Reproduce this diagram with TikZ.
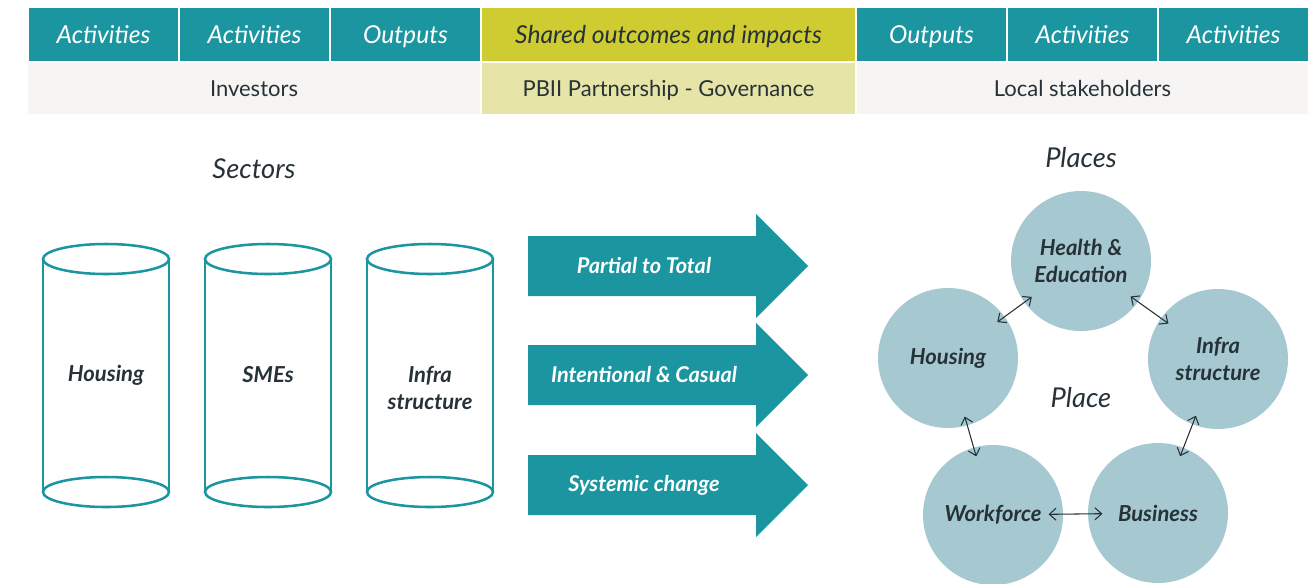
\documentclass[tikz,border=0pt]{standalone}
\usepackage{fontspec}
\setmainfont{Lato}
\usetikzlibrary{arrows.meta}
\definecolor{tealbox}{HTML}{1B96A0}
\definecolor{limebox}{HTML}{CFCC32}
\definecolor{palelime}{HTML}{E6E4A6}
\definecolor{greybox}{HTML}{F6F5F3}
\definecolor{placeblue}{HTML}{A6C8D0}
\definecolor{darktext}{HTML}{263238}

\begin{document}
\begin{tikzpicture}[x=0.75pt,y=-0.75pt,
	headcell/.style={minimum height=39.75pt, inner sep=0pt, text height=17pt, text depth=3pt, font=\itshape\fontsize{18.5}{20}\selectfont},
	rolecell/.style={minimum height=38.25pt, inner sep=0pt, text height=15.5pt, text depth=3pt, text=darktext, font=\fontsize{16.5}{18}\selectfont},
	barrel/.style={draw=tealbox, line width=1.9pt},
	barrellabel/.style={align=center, text=darktext, font=\bfseries\itshape\fontsize{16.5}{20}\selectfont},
	arrowlabel/.style={text=white, font=\bfseries\itshape\fontsize{16.3}{18}\selectfont},
	placenode/.style={circle, fill=placeblue, minimum size=105pt, inner sep=0pt, align=center, text=darktext, font=\bfseries\itshape\fontsize{16.5}{20}\selectfont},
	link/.style={{Straight Barb[length=5pt,width=9pt]}-{Straight Barb[length=5pt,width=9pt]}, draw=darktext, line width=0.8pt, shorten <=-7pt, shorten >=-7pt},
	title/.style={text=darktext, font=\itshape\fontsize{20.5}{22}\selectfont}]
	\useasboundingbox (0,0) rectangle (1316,583);

	% Header
	\foreach \x/\w/\bg/\fg/\txt/\name in {103.5/149/tealbox/white/Activities/acta, 254.5/149/tealbox/white/Activities/actb, 405.5/149/tealbox/white/Outputs/outa, 668.5/373/limebox/darktext/Shared outcomes and impacts/shared, 931.5/149/tealbox/white/Outputs/outb, 1082.5/149/tealbox/white/Activities/actc, 1233.5/149/tealbox/white/Activities/actd} {
		\node[headcell, fill=\bg, text=\fg, minimum width=\w*0.75pt] (\name) at (\x,34.5) {\txt};
	}
	\foreach \x/\w/\bg/\txt/\name in {254/452/greybox/Investors/investors, 668.5/373/palelime/PBII Partnership - Governance/governance, 1082.5/451/greybox/Local stakeholders/locals} {
		\node[rolecell, fill=\bg, minimum width=\w*0.75pt] (\name) at (\x,88.5) {\txt};
	}

	% Sectors
	\node[title] (sectors) at (254,169) {Sectors};
	\foreach \cx/\ly/\txt/\name in {106/375/Housing/housing, 268/375/SMEs/smes, 430/388/{Infra\\structure}/infra} {
		\draw[barrel] (\cx,259) ellipse [x radius=47.25pt, y radius=11.25pt];
		\draw[barrel] (\cx,492) ellipse [x radius=47.25pt, y radius=11.25pt];
		\draw[barrel] (\cx-63,259) -- (\cx-63,492);
		\draw[barrel] (\cx+63,259) -- (\cx+63,492);
		\node[barrellabel] (\name) at (\cx,\ly) {\txt};
	}

	% Arrows
	\foreach \cy/\txt/\name in {266/Partial to Total/partial, 375/Intentional \& Casual/intentional, 485/Systemic change/systemic} {
		\fill[tealbox] (528,\cy-30) -- (756,\cy-30) -- (756,\cy-52) -- (808,\cy) -- (756,\cy+52) -- (756,\cy+30) -- (528,\cy+30) -- cycle;
		\node[arrowlabel] (\name) at (644,\cy) {\txt};
	}

	% Places
	\node[title] (places) at (1081,158) {Places};
	\node[placenode] (health) at (1081,261) {Health \&\\Education};
	\node[placenode] (house) at (948,358) {Housing};
	\node[placenode] (infrap) at (1218,359) {Infra\\structure};
	\node[placenode] (workforce) at (993,515) {Workforce};
	\node[placenode] (business) at (1158,513) {Business};
	\node[text=darktext, font=\itshape\fontsize{20.5}{22}\selectfont] (place) at (1081,398) {Place};
	\draw[link] (health) -- (house);
	\draw[link] (health) -- (infrap);
	\draw[link] (house) -- (workforce);
	\draw[link] (infrap) -- (business);
	\draw[link, shorten <=-11pt, shorten >=-11pt] (workforce) -- (business);
\end{tikzpicture}
\end{document}
